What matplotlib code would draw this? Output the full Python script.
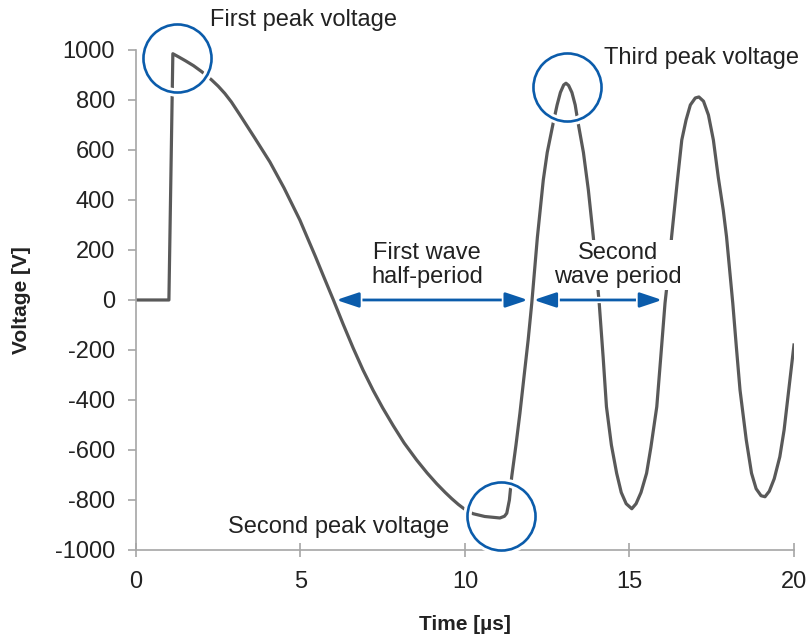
import matplotlib
matplotlib.use("Agg")
import matplotlib.pyplot as plt
import matplotlib.patheffects as pe

# ---- data ----
time_us = [0, 0.5, 1.0, 1.12, 1.3, 1.5, 1.75, 2.0, 2.3, 2.5, 2.7, 2.9, 3.16, 3.6, 4.07, 4.5,
           4.98, 5.2, 5.45, 5.7, 6.0, 6.3, 6.6, 6.9, 7.21, 7.5, 7.82, 8.15, 8.53, 8.85, 9.14,
           9.4, 9.6, 9.8, 9.95, 10.1, 10.25, 10.6, 11.06, 11.2, 11.27, 11.35, 11.42,
           11.55, 11.67, 11.8, 11.92, 12.03, 12.2, 12.38, 12.5, 12.68, 12.8, 12.9, 13.0,
           13.07, 13.15, 13.25, 13.35, 13.44, 13.6, 13.75, 13.9, 14.08, 14.2, 14.3, 14.45,
           14.61, 14.75, 14.9, 15.07, 15.2, 15.35, 15.52, 15.65, 15.83, 15.95, 16.08, 16.2,
           16.28, 16.45, 16.59, 16.72, 16.85, 17.0, 17.11, 17.25, 17.4, 17.55, 17.7, 17.85,
           17.95, 18.14, 18.25, 18.36, 18.55, 18.71, 18.85, 19.0, 19.12, 19.25, 19.4, 19.57,
           19.7, 19.85, 20.0]
voltage_v = [0, 0, 0, 985, 972, 957, 937, 913, 880, 855, 826, 792, 740, 650, 552, 448,
             320, 252, 175, 95, 0, -98, -192, -280, -362, -432, -503, -572, -640, -692, -735,
             -770, -795, -818, -833, -846, -855, -866, -872, -865, -853, -800, -707,
             -580, -453, -300, -160, -13, 250, 480, 590, 707, 780, 830, 860,
             867, 858, 830, 780, 707, 590, 440, 253, -13, -230, -427, -580,
             -693, -770, -815, -835, -815, -770, -693, -590, -427, -230, -13, 130,
             253, 470, 640, 720, 780, 808, 812, 795, 740, 640, 490, 360,
             253, -13, -190, -360, -560, -693, -755, -783, -787, -765, -715, -627,
             -520, -350, -180]

peak_t = [1.26, 11.09, 13.1]
peak_v = [968, -864, 852]
peak_labels = ["First peak voltage", "Second peak voltage", "Third peak voltage"]
peak_label_pos = [(2.25, 1120), (2.8, -908), (14.22, 968)]

period_spans = [(6.0, 12.0), (12.0, 16.08)]
period_labels = ["First wave\nhalf-period", "Second\nwave period"]
period_label_pos = [(8.85, 140), (14.65, 140)]

x_ticks = [0, 5, 10, 15, 20]
y_ticks = list(range(-1000, 1001, 200))

# ---- style ----
plt.rcParams['font.family'] = ['Liberation Sans', 'DejaVu Sans']
BLUE = '#0b5cab'
CURVE = '#595959'
AXC = '#a6a6a6'
TXT = '#222222'
FS = 17

fig = plt.figure(figsize=(8.11, 6.39), dpi=100)
ax = fig.add_axes([0.1677, 0.1393, 0.8113, 0.7825])

ax.plot(time_us, voltage_v, color=CURVE, lw=2.3, solid_joinstyle='round', zorder=2)

ax.set_xlim(0, 20)
ax.set_ylim(-1000, 1000)
ax.set_xticks(x_ticks)
ax.set_yticks(y_ticks)
ax.set_xticklabels([str(v) for v in x_ticks])
ax.set_yticklabels([str(v) for v in y_ticks])

for s in ['top', 'right']:
    ax.spines[s].set_visible(False)
for s in ['left', 'bottom']:
    ax.spines[s].set_color(AXC)
    ax.spines[s].set_linewidth(1.2)
ax.tick_params(axis='y', direction='out', length=6, width=1.2, color=AXC,
               labelsize=FS, labelcolor=TXT, pad=9)
ax.tick_params(axis='x', direction='inout', length=10, width=1.2, color=AXC,
               labelsize=FS, labelcolor=TXT, pad=10)

ax.set_xlabel('Time [µs]', fontsize=15, fontweight='bold', color=TXT, labelpad=16)
ax.set_ylabel('Voltage [V]', fontsize=15, fontweight='bold', color=TXT, labelpad=17)

# circles around peaks
ax.plot(peak_t, peak_v, linestyle='none', marker='o', markersize=49,
        markerfacecolor='none', markeredgecolor='white', markeredgewidth=6,
        clip_on=False, zorder=3)
ax.plot(peak_t, peak_v, linestyle='none', marker='o', markersize=49,
        markerfacecolor='none', markeredgecolor=BLUE, markeredgewidth=1.9,
        clip_on=False, zorder=4)

for lab, (lx, ly) in zip(peak_labels, peak_label_pos):
    ax.text(lx, ly, lab, ha='left', va='center', fontsize=FS, color=TXT,
            clip_on=False, zorder=5)

# period arrows
for (a, b) in period_spans:
    ax.annotate('', xy=(b, 0), xytext=(a, 0),
                arrowprops=dict(arrowstyle='<|-|>,head_length=0.9,head_width=0.3',
                                color=BLUE, lw=2.0, shrinkA=2, shrinkB=2,
                                mutation_scale=15,
                                path_effects=[pe.withStroke(linewidth=4.5, foreground='white')]),
                zorder=5)

for lab, (lx, ly) in zip(period_labels, period_label_pos):
    ax.text(lx, ly, lab, ha='center', va='center', fontsize=FS, color=TXT,
            linespacing=1.1,
            bbox=dict(boxstyle='square,pad=0.1', facecolor='white', edgecolor='none'),
            zorder=5)

fig.savefig('out.png', dpi=100)
